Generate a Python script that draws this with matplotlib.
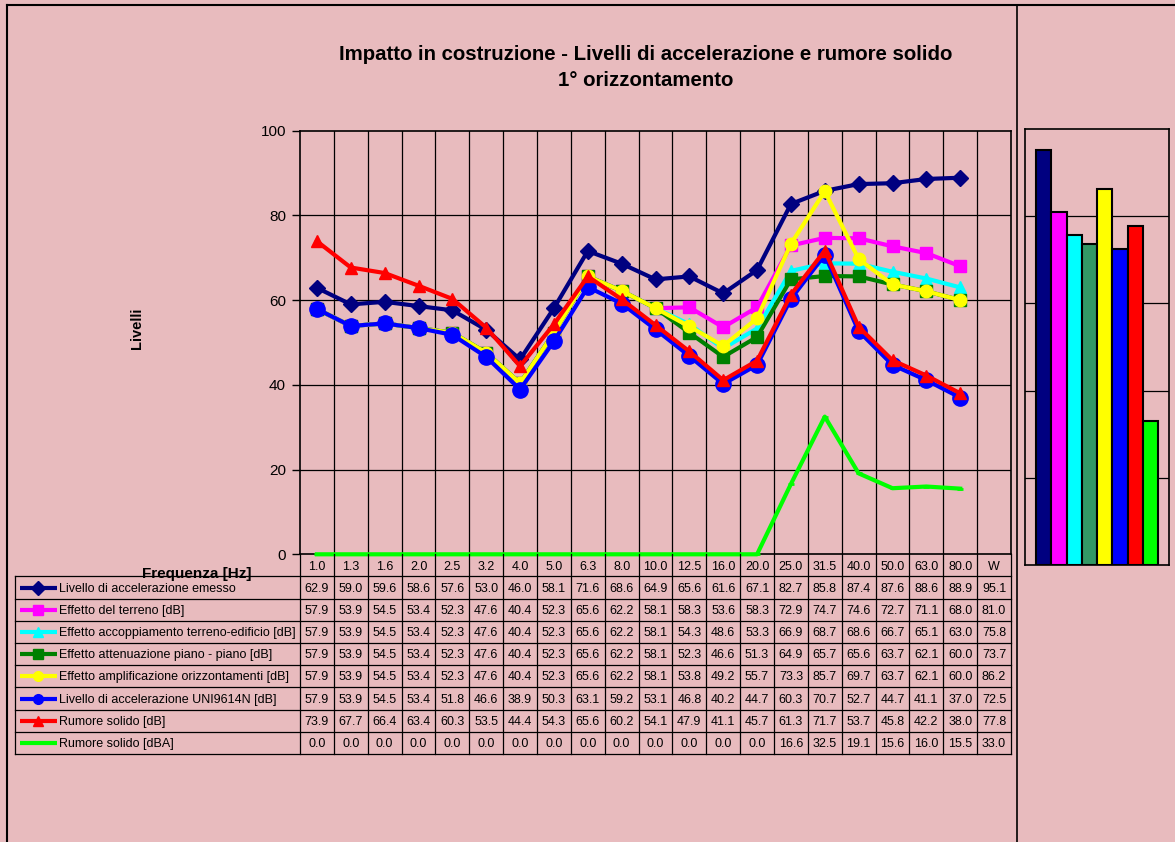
import matplotlib.pyplot as plt
import numpy as np

plt.rcParams['font.family'] = ['Liberation Sans', 'DejaVu Sans']

# ── Data ──────────────────────────────────────────────────────────────────────
freq_labels = ['1.0', '1.3', '1.6', '2.0', '2.5', '3.2', '4.0', '5.0', '6.3', '8.0',
               '10.0', '12.5', '16.0', '20.0', '25.0', '31.5', '40.0', '50.0', '63.0',
               '80.0', 'W']

series_names = [
    'Livello di accelerazione emesso',
    'Effetto del terreno [dB]',
    'Effetto accoppiamento terreno-edificio [dB]',
    'Effetto attenuazione piano - piano [dB]',
    'Effetto amplificazione orizzontamenti [dB]',
    'Livello di accelerazione UNI9614N [dB]',
    'Rumore solido [dB]',
    'Rumore solido [dBA]',
]

emesso = [62.9, 59.0, 59.6, 58.6, 57.6, 53.0, 46.0, 58.1, 71.6, 68.6,
          64.9, 65.6, 61.6, 67.1, 82.7, 85.8, 87.4, 87.6, 88.6, 88.9]
terreno = [57.9, 53.9, 54.5, 53.4, 52.3, 47.6, 40.4, 52.3, 65.6, 62.2,
           58.1, 58.3, 53.6, 58.3, 72.9, 74.7, 74.6, 72.7, 71.1, 68.0]
accoppiamento = [57.9, 53.9, 54.5, 53.4, 52.3, 47.6, 40.4, 52.3, 65.6, 62.2,
                 58.1, 54.3, 48.6, 53.3, 66.9, 68.7, 68.6, 66.7, 65.1, 63.0]
attenuazione = [57.9, 53.9, 54.5, 53.4, 52.3, 47.6, 40.4, 52.3, 65.6, 62.2,
                58.1, 52.3, 46.6, 51.3, 64.9, 65.7, 65.6, 63.7, 62.1, 60.0]
amplificazione = [57.9, 53.9, 54.5, 53.4, 52.3, 47.6, 40.4, 52.3, 65.6, 62.2,
                  58.1, 53.8, 49.2, 55.7, 73.3, 85.7, 69.7, 63.7, 62.1, 60.0]
uni9614 = [57.9, 53.9, 54.5, 53.4, 51.8, 46.6, 38.9, 50.3, 63.1, 59.2,
           53.1, 46.8, 40.2, 44.7, 60.3, 70.7, 52.7, 44.7, 41.1, 37.0]
rumore_db = [73.9, 67.7, 66.4, 63.4, 60.3, 53.5, 44.4, 54.3, 65.6, 60.2,
             54.1, 47.9, 41.1, 45.7, 61.3, 71.7, 53.7, 45.8, 42.2, 38.0]
rumore_dba = [0.0, 0.0, 0.0, 0.0, 0.0, 0.0, 0.0, 0.0, 0.0, 0.0,
              0.0, 0.0, 0.0, 0.0, 16.6, 32.5, 19.1, 15.6, 16.0, 15.5]

# weighted totals (column "W")
totals = [95.1, 81.0, 75.8, 73.7, 86.2, 72.5, 77.8, 33.0]

all_series = [emesso, terreno, accoppiamento, attenuazione,
              amplificazione, uni9614, rumore_db, rumore_dba]

# ── Styles ────────────────────────────────────────────────────────────────────
line_colors = ['#000080', '#FF00FF', '#00FFFF', '#008000',
               '#FFFF00', '#0000FF', '#FF0000', '#00FF00']
bar_colors = ['#000080', '#FF00FF', '#00FFFF', '#339966',
              '#FFFF00', '#0000FF', '#FF0000', '#00FF00']
markers = ['D', 's', '^', 's', 'o', 'o', '^', '_']
msizes = [8.5, 8, 9, 8, 9, 11, 9, 5]

BG = '#E8BBBE'
W_PX, H_PX = 1175, 842


def box(x0, y0, x1, y1):
    """pixel box (top-left origin) -> figure rect"""
    return [x0 / W_PX, 1 - y1 / H_PX, (x1 - x0) / W_PX, (y1 - y0) / H_PX]


fig = plt.figure(figsize=(W_PX / 100, H_PX / 100), dpi=100, facecolor=BG)

# outer frame lines
fig.add_artist(plt.Line2D([7 / W_PX, 1], [1 - 5 / H_PX, 1 - 5 / H_PX], color='k', lw=1.5))
fig.add_artist(plt.Line2D([7 / W_PX, 7 / W_PX], [0, 1 - 5 / H_PX], color='k', lw=1.5))
fig.add_artist(plt.Line2D([1017 / W_PX, 1017 / W_PX], [0, 1 - 5 / H_PX], color='k', lw=1.2))

# ── Main line chart ───────────────────────────────────────────────────────────
PL, PR, PT, PB = 300, 1011, 130.7, 554.3
ax = fig.add_axes(box(PL, PT, PR, PB))
ax.set_facecolor('none')
n_cat = len(freq_labels)
x = np.arange(len(emesso))

for k in range(1, n_cat):
    ax.axvline(k - 0.5, color='k', lw=0.9, zorder=1)
for v in (20, 40, 60, 80):
    ax.axhline(v, color='k', lw=0.9, zorder=1)

for i, (vals, c, m, ms) in enumerate(zip(all_series, line_colors, markers, msizes)):
    ax.plot(x, vals, color=c, lw=3, marker=m, markersize=ms,
            markerfacecolor=c, markeredgecolor=c, markeredgewidth=2 if m == '_' else 1,
            zorder=3 + i, clip_on=False)

ax.set_xlim(-0.5, n_cat - 0.5)
ax.set_ylim(0, 100)
ax.set_yticks([0, 20, 40, 60, 80, 100])
ax.set_xticks([])
ax.tick_params(axis='y', direction='out', length=6, width=1, labelsize=11, pad=4)
for s in ax.spines.values():
    s.set_color('k')
    s.set_linewidth(1.2)

fig.text(137 / W_PX, 1 - 328 / H_PX, 'Livelli', rotation=90, ha='center', va='center',
         fontsize=10.5, fontweight='bold')

fig.text(646 / W_PX, 1 - 55 / H_PX, 'Impatto in costruzione - Livelli di accelerazione e rumore solido',
         ha='center', va='center', fontsize=14.7, fontweight='bold')
fig.text(646 / W_PX, 1 - 80 / H_PX, '1° orizzontamento',
         ha='center', va='center', fontsize=14.7, fontweight='bold')

# ── Data table ────────────────────────────────────────────────────────────────
TL, TT, TB = 15, 554.3, 754
col_w = (PR - PL) / n_cat
x_left = -0.5 - (PL - TL) / col_w
n_rows = 1 + len(series_names)
tab = fig.add_axes(box(TL, TT, PR, TB))
tab.set_facecolor('none')
tab.set_xlim(x_left, n_cat - 0.5)
tab.set_ylim(n_rows, 0)
tab.axis('off')


def px2x(px):
    return x_left + (px - TL) / col_w


for k in range(n_cat + 1):
    tab.plot([k - 0.5, k - 0.5], [0, n_rows], color='k', lw=0.9, clip_on=False)
for r in range(1, n_rows + 1):
    tab.plot([x_left, n_cat - 0.5], [r, r], color='k', lw=0.9, clip_on=False)
tab.plot([x_left, x_left], [1, n_rows], color='k', lw=0.9, clip_on=False)

for k, lab in enumerate(freq_labels):
    tab.text(k, 0.55, lab, ha='center', va='center', fontsize=9)

for r, (name, vals, tot, c, m) in enumerate(zip(series_names, all_series, totals,
                                                line_colors, markers), start=1):
    yc = r + 0.5
    tab.plot([px2x(20), px2x(57)], [yc, yc], color=c, lw=3, solid_capstyle='butt')
    if m != '_':
        tab.plot([px2x(38)], [yc], marker=m, markersize=7, color=c, markeredgecolor=c)
    tab.text(px2x(59), yc + 0.05, name, ha='left', va='center', fontsize=9)
    for k, v in enumerate(vals + [tot]):
        tab.text(k, yc + 0.05, f'{v:.1f}', ha='center', va='center', fontsize=9)

fig.text(197 / W_PX, 1 - 574 / H_PX, 'Frequenza [Hz]', ha='center', va='center',
         fontsize=11, fontweight='bold')

# ── Side bar chart (weighted totals) ──────────────────────────────────────────
bx = fig.add_axes(box(1025, 129, 1169, 565))
bx.set_facecolor('none')
pos = np.arange(len(totals))
for v in (20, 40, 60, 80):
    bx.axhline(v, color='k', lw=0.9, zorder=0)
bx.bar(pos, totals, width=1.0, color=bar_colors, edgecolor='k', linewidth=1.5, zorder=2)
margin = 11 / ((1158 - 1036) / len(totals))
bx.set_xlim(-0.5 - margin, len(totals) - 0.5 + margin)
bx.set_ylim(0, 100)
bx.set_xticks([])
bx.set_yticks([])
for s in bx.spines.values():
    s.set_color('k')
    s.set_linewidth(1.2)

fig.savefig('out.png', dpi=100, facecolor=BG)
